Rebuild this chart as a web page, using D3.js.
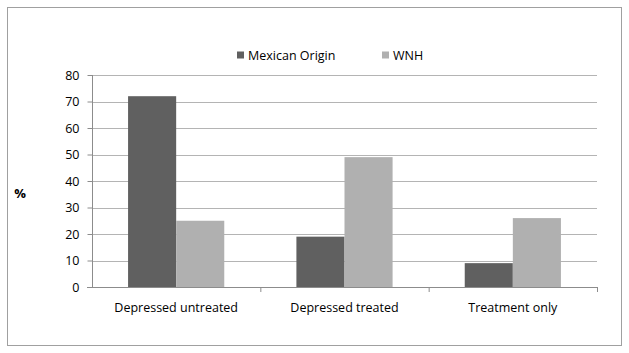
<!DOCTYPE html>
<html>
<head>
<meta charset="utf-8">
<script src="https://cdn.jsdelivr.net/npm/d3@7"></script>
<style>
	body { margin: 0; background: #fff; }
	text { font-family: "Open Sans", "Liberation Sans", sans-serif; fill: #000; }
</style>
</head>
<body>
<script>
(function () {
	"use strict";

	var categories = ["Depressed untreated", "Depressed treated", "Treatment only"];
	var seriesNames = ["Mexican Origin", "WNH"];
	var mexicanOrigin = [72, 19, 9];
	var wnh = [25, 49, 26];
	var yTicks = [0, 10, 20, 30, 40, 50, 60, 70, 80];

	var w = 629;
	var h = 353;
	var colors = ["#606060", "#b0b0b0"];

	var plot = { left: 92, right: 597, top: 75, bottom: 287 };

	var rows = categories.map((c, i) => ({ cat: c, values: [mexicanOrigin[i], wnh[i]] }));

	var svg = d3.select("body")
		.append("svg")
		.attr("width", w)
		.attr("height", h);

	// outer frame
	svg.append("rect")
		.attr("x", 7.5).attr("y", 7.5)
		.attr("width", 614).attr("height", 338)
		.attr("fill", "#fff")
		.attr("stroke", "#a0a0a0")
		.attr("stroke-width", 1);

	var xScale = d3.scaleBand()
		.domain(categories)
		.range([plot.left, plot.right])
		.padding(0);

	// excel-ish gap width of 150%
	var xInner = d3.scaleBand()
		.domain(seriesNames)
		.range([0, xScale.bandwidth()])
		.paddingInner(0)
		.paddingOuter(0.75);

	var yScale = d3.scaleLinear()
		.domain([0, 80])
		.range([plot.bottom, plot.top]);

	// gridlines
	svg.append("g")
		.selectAll("line")
		.data(yTicks.slice(1))
		.join("line")
		.attr("x1", plot.left).attr("x2", plot.right)
		.attr("y1", (d) => Math.round(yScale(d)) + 0.5)
		.attr("y2", (d) => Math.round(yScale(d)) + 0.5)
		.attr("stroke", "#b4b4b4")
		.attr("stroke-width", 1);

	// bars
	svg.append("g")
		.selectAll("g")
		.data(rows)
		.join("g")
		.attr("transform", (d) => "translate(" + xScale(d.cat) + ",0)")
		.selectAll("rect")
		.data((d) => d.values.map((v, j) => ({ key: seriesNames[j], v: v, j: j })))
		.join("rect")
		.attr("x", (d) => xInner(d.key))
		.attr("width", xInner.bandwidth())
		.attr("y", (d) => yScale(d.v))
		.attr("height", (d) => yScale(0) - yScale(d.v))
		.attr("fill", (d) => colors[d.j]);

	// y axis
	var yAxis = d3.axisLeft(yScale)
		.tickValues(yTicks)
		.tickSize(5)
		.tickPadding(8);
	var gy = svg.append("g")
		.attr("transform", "translate(" + (plot.left + 0.5) + ",0)")
		.call(yAxis);
	gy.select(".domain").attr("stroke", "#8c8c8c").attr("d", "M0," + plot.top + "V" + plot.bottom);
	gy.selectAll(".tick line").attr("stroke", "#8c8c8c");
	gy.selectAll(".tick text").attr("font-size", 12.5).attr("fill", "#000")
		.style("font-family", "'Open Sans', sans-serif");

	// x axis
	var xAxis = d3.axisBottom(xScale).tickSize(0).tickPadding(16);
	var gx = svg.append("g")
		.attr("transform", "translate(0," + (plot.bottom + 0.5) + ")")
		.call(xAxis);
	gx.select(".domain").attr("stroke", "#8c8c8c").attr("d", "M" + (plot.left - 5) + ",0H" + plot.right);
	gx.selectAll(".tick text").attr("font-size", 12.5).attr("fill", "#000")
		.style("font-family", "'Open Sans', sans-serif");

	// category separators
	svg.append("g")
		.selectAll("line")
		.data(categories)
		.join("line")
		.attr("x1", (d) => xScale(d) + xScale.bandwidth() + 0.5)
		.attr("x2", (d) => xScale(d) + xScale.bandwidth() + 0.5)
		.attr("y1", plot.bottom)
		.attr("y2", plot.bottom + 5)
		.attr("stroke", "#8c8c8c");

	// y label
	svg.append("text")
		.attr("x", 20).attr("y", 198)
		.attr("text-anchor", "middle")
		.attr("font-size", 13)
		.attr("font-weight", "bold")
		.text("%");

	// legend
	var legendX = [237, 382];
	var legend = svg.append("g")
		.selectAll("g")
		.data(seriesNames)
		.join("g")
		.attr("transform", (d, i) => "translate(" + legendX[i] + ",55)");
	legend.append("rect")
		.attr("x", 0).attr("y", -3.5)
		.attr("width", 7).attr("height", 7)
		.attr("fill", (d, i) => colors[i]);
	legend.append("text")
		.attr("x", 11).attr("y", 4.5)
		.attr("font-size", 12.5)
		.text((d) => d);
})();
</script>
</body>
</html>
